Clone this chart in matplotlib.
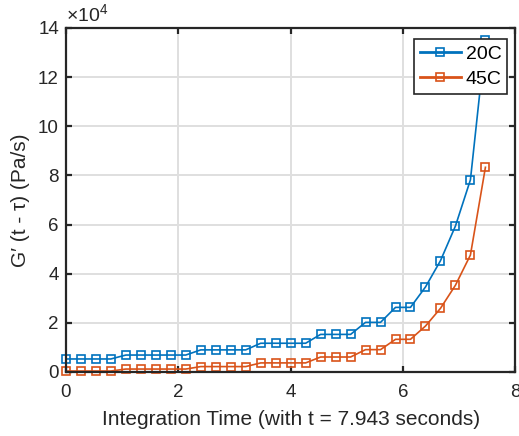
import matplotlib
matplotlib.use("Agg")
import matplotlib.pyplot as plt
from matplotlib.ticker import FuncFormatter

plt.rcParams['font.family'] = ['Liberation Sans', 'DejaVu Sans']
plt.rcParams['mathtext.fontset'] = 'custom'
plt.rcParams['mathtext.rm'] = 'Liberation Sans'
plt.rcParams['mathtext.it'] = 'Liberation Sans:italic'
plt.rcParams['mathtext.sf'] = 'Liberation Sans'

# integration time offsets (s)
tau = [0.000, 0.267, 0.533, 0.800, 1.067, 1.333, 1.600, 1.867, 2.133, 2.400,
       2.667, 2.933, 3.200, 3.467, 3.733, 4.000, 4.267, 4.533, 4.800, 5.067,
       5.333, 5.600, 5.867, 6.133, 6.400, 6.667, 6.933, 7.200, 7.467]

# G'(t - tau) in units of 1e4 Pa/s
g_20c = [0.53, 0.53, 0.53, 0.53, 0.69, 0.69, 0.69, 0.69, 0.69, 0.90,
         0.90, 0.90, 0.90, 1.17, 1.17, 1.17, 1.17, 1.53, 1.53, 1.53,
         2.02, 2.02, 2.63, 2.63, 3.46, 4.53, 5.94, 7.82, 13.50]
g_45c = [0.04, 0.04, 0.04, 0.04, 0.12, 0.12, 0.12, 0.12, 0.12, 0.22,
         0.22, 0.22, 0.22, 0.37, 0.37, 0.37, 0.37, 0.61, 0.61, 0.61,
         0.91, 0.91, 1.33, 1.33, 1.87, 2.59, 3.53, 4.76, 8.33]

series_labels = ['20C', '45C']
x_ticks = [0, 2, 4, 6, 8]
y_ticks = [0, 2, 4, 6, 8, 10, 12, 14]
scale = 1e4

blue = '#0072BD'
orange = '#D95319'
dark = '#262626'

fig = plt.figure(figsize=(5.19, 4.36), dpi=100)
ax = fig.add_axes([0.127, 0.1468, 0.866, 0.789])

for vals, col, lab in zip([g_20c, g_45c], [blue, orange], series_labels):
    ax.plot(tau, [v * scale for v in vals], color=col, lw=1.2, marker='s',
            ms=5.5, mfc='none', mec=col, mew=1.2, label=lab, clip_on=False, zorder=3)

ax.set_xlim(0, 8)
ax.set_ylim(0, 14 * scale)
ax.set_xticks(x_ticks)
ax.set_yticks([t * scale for t in y_ticks])
ax.yaxis.set_major_formatter(FuncFormatter(lambda v, p: f"{v / scale:g}"))

ax.grid(True, color='#dfdfdf', lw=1.4)
ax.set_axisbelow(True)
for s in ax.spines.values():
    s.set_color(dark)
    s.set_linewidth(1.6)
    s.set_zorder(4)
ax.tick_params(direction='in', length=4, width=1.6, color=dark, labelcolor=dark,
               labelsize=13.5, top=True, right=True, pad=5)
ax.tick_params(axis='x', pad=9)

ax.text(0.0, 1.008, r'$\times$10$^{4}$', transform=ax.transAxes, fontsize=14,
        color=dark, ha='left', va='bottom')

ax.set_xlabel('Integration Time (with t = 7.943 seconds)', fontsize=15, color=dark, labelpad=6)
ax.set_ylabel("G\u2032 (t - \u03c4) (Pa/s)", fontsize=15, color=dark, labelpad=6)

leg = ax.legend(loc='upper right', bbox_to_anchor=(0.982, 0.967), fontsize=14,
                frameon=True, fancybox=False, framealpha=1, edgecolor=dark,
                handlelength=2.1, handletextpad=0.25, borderpad=0.3,
                labelspacing=0.4, borderaxespad=0)
leg.get_frame().set_linewidth(1.2)
leg.set_zorder(5)
for h in leg.get_lines():
    h.set_linewidth(2)

fig.savefig('out.png', dpi=100)
